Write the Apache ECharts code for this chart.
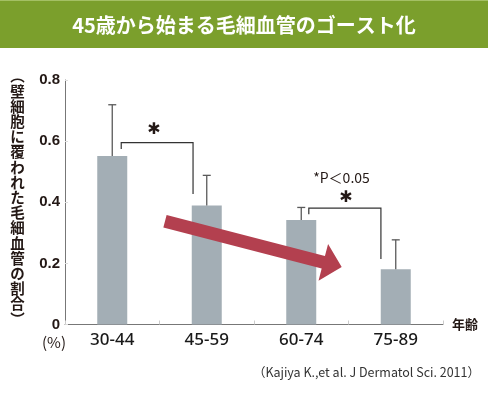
<!DOCTYPE html>
<html><head><meta charset="utf-8">
<script src="https://cdn.jsdelivr.net/npm/echarts@6/dist/echarts.min.js"></script>
<style>html,body{margin:0;padding:0;background:#fff}#c{width:488px;height:393px}</style>
</head><body><div id="c"></div>
<script>
const titleText = '45歳から始まる毛細血管のゴースト化';
const categories = ['30-44', '45-59', '60-74', '75-89'];
const values = [0.551, 0.389, 0.342, 0.181];
const errorHigh = [0.719, 0.488, 0.383, 0.277];
const yTickLabels = ['0', '0.2', '0.4', '0.6', '0.8'];
// brackets: [leftX(cat units), leftLow, rightX, rightLow, top]
const brackets = [[0.095, 0.574, 0.855, 0.427, 0.595], [2.08, 0.361, 2.843, 0.214, 0.381]];
const stars = [[0.442, 0.636], [2.474, 0.414]];
const pNote = [2.426, 0.481, '*P＜0.05'];
const trendArrow = [0.558, 0.338, 2.428, 0.188];
const yTitle = '︵壁細胞に覆われた毛細血管の割合︶';
const citation = '（Kajiya K.,et al. J Dermatol Sci. 2011）';

const chart = echarts.init(document.getElementById('c'));
const JP = '"Noto Sans CJK JP", sans-serif';

function helpers(api) {
  const c0 = api.coord([0, 0]);
  const band = api.size([1, 0])[0];
  return {
    X: f => c0[0] + band * f,
    Y: v => api.coord([0, v])[1]
  };
}

chart.setOption({
  animation: false,
  title: {
    text: titleText, left: 'center', top: 13, padding: 0,
    textStyle: { color: '#fff', fontSize: 20, fontWeight: 'bold', fontFamily: JP, lineHeight: 24 }
  },
  graphic: [
    { type: 'rect', z: -1, shape: { x: 0, y: 0, width: 488, height: 48 }, style: { fill: '#7b9f2c' } },
    { type: 'rect', z: -1, shape: { x: 0, y: 0, width: 488, height: 1 }, style: { fill: '#a4c064' } },
    { type: 'text', x: 17.5, y: 197.5, style: { text: yTitle.split('').join('\n'), font: 'bold 14.5px ' + JP, lineHeight: 15.2, fill: '#231815', align: 'center', verticalAlign: 'middle' } },
    { type: 'text', x: 54, y: 342, style: { text: '(%)', font: '15px ' + JP, fill: '#231815', align: 'center', verticalAlign: 'middle' } },
    { type: 'text', x: 480, y: 372, style: { text: citation, font: '12.5px ' + JP, fill: '#333', align: 'right', verticalAlign: 'middle' } }
  ],
  grid: { left: 65, right: 45, top: 80, bottom: 68.5 },
  xAxis: {
    type: 'category', data: categories,
    name: '年齢', nameLocation: 'end', nameGap: 9,
    nameTextStyle: { fontFamily: JP, fontSize: 13, fontWeight: 'bold', color: '#231815', verticalAlign: 'middle', padding: [34, 0, 0, 0] },
    axisLine: { lineStyle: { color: '#777', width: 1 } },
    axisTick: { show: true, inside: true, length: 4, lineStyle: { color: '#ccc' } },
    axisLabel: { color: '#1a1a1a', fontSize: 17, fontWeight: 500, fontFamily: '"Noto Sans", sans-serif', margin: 7 }
  },
  yAxis: {
    type: 'value', min: 0, max: 0.8, interval: 0.2,
    axisLine: { show: true, lineStyle: { color: '#777', width: 1 } },
    axisTick: { show: true, inside: true, length: 3, lineStyle: { color: '#ddd' } },
    splitLine: { show: false },
    axisLabel: {
      color: '#231815', fontSize: 15, fontWeight: 'bold', fontFamily: '"Liberation Sans", sans-serif', margin: 5,
      formatter: (v) => yTickLabels[Math.round(v / 0.2)]
    }
  },
  series: [
    {
      type: 'bar', data: values, barWidth: 30,
      itemStyle: { color: '#a3aeb5' }
    },
    {
      type: 'custom', z: 3,
      encode: { x: 0, y: [1, 2] },
      data: values.map((v, i) => [i, v, errorHigh[i]]),
      renderItem: (params, api) => {
        const p1 = api.coord([api.value(0), api.value(1)]);
        const p2 = api.coord([api.value(0), api.value(2)]);
        const st = { stroke: '#5a5a5a', lineWidth: 1.3 };
        return {
          type: 'group', children: [
            { type: 'line', shape: { x1: p1[0], y1: p1[1], x2: p2[0], y2: p2[1] }, style: st },
            { type: 'line', shape: { x1: p2[0] - 4, y1: p2[1], x2: p2[0] + 4, y2: p2[1] }, style: st }
          ]
        };
      }
    },
    {
      type: 'custom', z: 4,
      data: brackets.map(b => [Math.round(b[0]), b[4]]),
      renderItem: (params, api) => {
        const b = brackets[params.dataIndex];
        const h = helpers(api);
        const s = stars[params.dataIndex];
        const children = [
          { type: 'polyline', shape: { points: [[h.X(b[0]), h.Y(b[1])], [h.X(b[0]), h.Y(b[4])], [h.X(b[2]), h.Y(b[4])], [h.X(b[2]), h.Y(b[3])]] }, style: { stroke: '#333', lineWidth: 1.2, fill: null } },
          { type: 'text', x: h.X(s[0]), y: h.Y(s[1]), style: { text: '✱', font: '16px "DejaVu Sans"', fill: '#231815', align: 'center', verticalAlign: 'middle' } }
        ];
        if (params.dataIndex === 1) {
          children.push({ type: 'text', x: h.X(pNote[0]), y: h.Y(pNote[1]), style: { text: pNote[2], font: '14px ' + JP, fill: '#231815', align: 'center', verticalAlign: 'middle' } });
        }
        return { type: 'group', children };
      }
    },
    {
      type: 'custom', z: 5,
      data: [[1, trendArrow[1]]],
      renderItem: (params, api) => {
        const h = helpers(api);
        const x1 = h.X(trendArrow[0]), y1 = h.Y(trendArrow[1]);
        const x2 = h.X(trendArrow[2]), y2 = h.Y(trendArrow[3]);
        const dx = x2 - x1, dy = y2 - y1, L = Math.hypot(dx, dy);
        const ux = dx / L, uy = dy / L, nx = -uy, ny = ux;
        const sw = 6.5, hw = 19, hl = 19;
        const bx = x2 - ux * hl, by = y2 - uy * hl;
        const pts = [
          [x1 + nx * sw, y1 + ny * sw],
          [bx + nx * sw, by + ny * sw],
          [bx + nx * hw, by + ny * hw],
          [x2, y2],
          [bx - nx * hw, by - ny * hw],
          [bx - nx * sw, by - ny * sw],
          [x1 - nx * sw, y1 - ny * sw]
        ];
        return { type: 'polygon', shape: { points: pts }, style: { fill: '#b3404f' } };
      }
    }
  ]
});
</script></body></html>
